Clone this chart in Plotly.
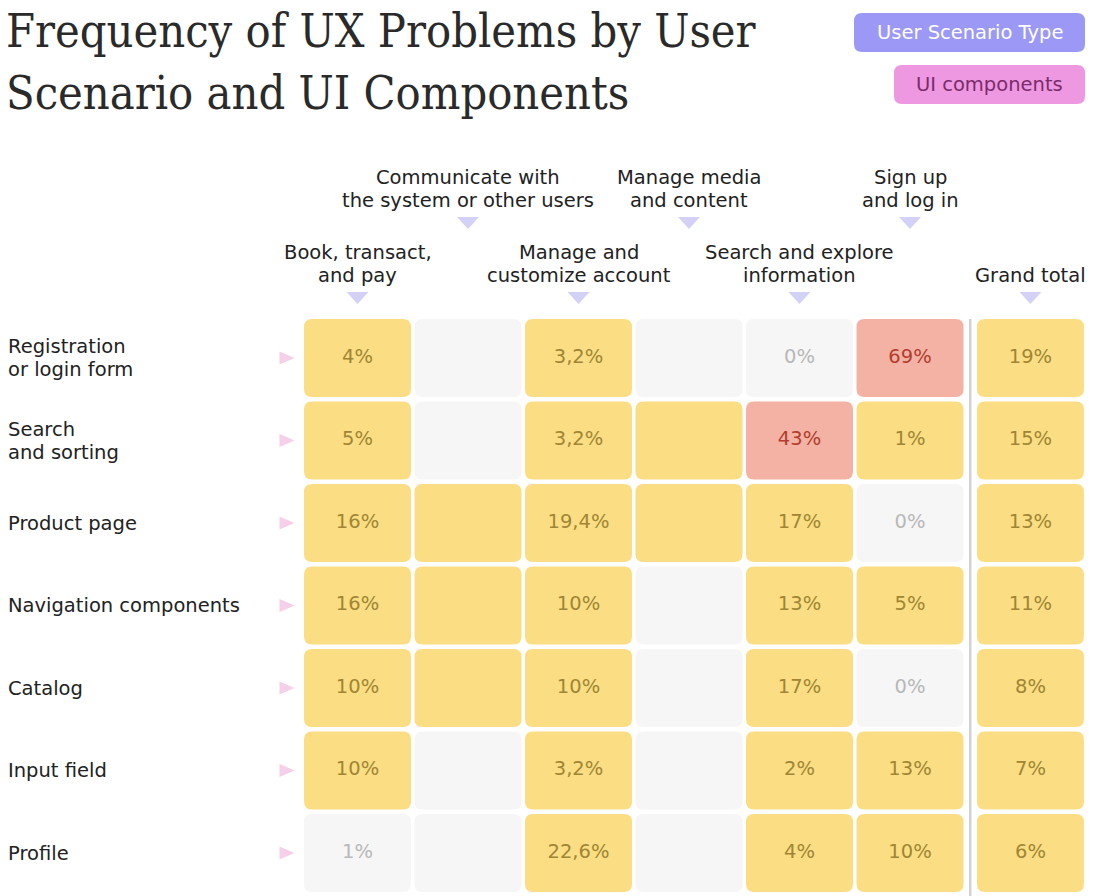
import plotly.graph_objects as go

# ---------------- data ----------------
title_lines = ["Frequency of UX Problems by User", "Scenario and UI Components"]
legend_labels = ["User Scenario Type", "UI components"]
scenarios = [
    "Book, transact,<br>and pay",
    "Communicate with<br>the system or other users",
    "Manage and<br>customize account",
    "Manage media<br>and content",
    "Search and explore<br>information",
    "Sign up<br>and log in",
    "Grand total",
]
components = [
    "Registration<br>or login form",
    "Search<br>and sorting",
    "Product page",
    "Navigation components",
    "Catalog",
    "Input field",
    "Profile",
]
# percentages (None = no label)
values = [
    [4, None, 3.2, None, 0, 69, 19],
    [5, None, 3.2, None, 43, 1, 15],
    [16, None, 19.4, None, 17, 0, 13],
    [16, None, 10, None, 13, 5, 11],
    [10, None, 10, None, 17, 0, 8],
    [10, None, 3.2, None, 2, 13, 7],
    [1, None, 22.6, None, 4, 10, 6],
]
# colour level: 0 = grey, 1 = yellow, 2 = red
levels = [
    [1, 0, 1, 0, 0, 2, 1],
    [1, 0, 1, 1, 2, 1, 1],
    [1, 1, 1, 1, 1, 0, 1],
    [1, 1, 1, 0, 1, 1, 1],
    [1, 1, 1, 0, 1, 0, 1],
    [1, 0, 1, 0, 1, 1, 1],
    [0, 0, 1, 0, 1, 1, 1],
]

# ---------------- style ----------------
W, H = 1102, 896
FONT = "DejaVu Sans"
FS = 19.5
LINE = 23
TITLE_FONT = "DejaVu Serif Condensed, DejaVu Serif"
fill_colors = {0: "#f6f6f6", 1: "#fbde83", 2: "#f4b2a5"}
text_colors = {0: "#b8b8b8", 1: "#a08634", 2: "#b13e2f"}

X0, XP = 357.5, 110.5
Y0, YP = 358.0, 82.5
GT_GAP = 0.09
CW, CH = 107 / XP, 78 / YP
RX, RY = 8 / XP, 8 / YP


def xpos(i):
    return i + (GT_GAP if i == len(scenarios) - 1 else 0)


def fmt(v):
    if v is None:
        return ""
    if float(v).is_integer():
        return f"{int(v)}%"
    return f"{v:.1f}".replace(".", ",") + "%"


def rrect(x0, y0, x1, y1, rx, ry):
    return (f"M {x0+rx},{y0} L {x1-rx},{y0} Q {x1},{y0} {x1},{y0+ry} "
            f"L {x1},{y1-ry} Q {x1},{y1} {x1-rx},{y1} L {x0+rx},{y1} "
            f"Q {x0},{y1} {x0},{y1-ry} L {x0},{y0+ry} Q {x0},{y0} {x0+rx},{y0} Z")


def px2x(px):
    return (px - X0) / XP


def px2y(py):
    return (py - Y0) / YP


shapes = []
annotations = []

# cells
tx, ty, tt, tc = [], [], [], []
for r, row in enumerate(values):
    for c, v in enumerate(row):
        cx = xpos(c)
        lvl = levels[r][c]
        shapes.append(dict(
            type="path", xref="x", yref="y", layer="below",
            path=rrect(cx - CW / 2, r - CH / 2, cx + CW / 2, r + CH / 2, RX, RY),
            fillcolor=fill_colors[lvl], line=dict(width=0)))
        if v is not None:
            tx.append(cx)
            ty.append(r)
            tt.append(fmt(v))
            tc.append(text_colors[lvl])

# separator between scenarios and grand total
sep_x = (xpos(len(scenarios) - 2) + xpos(len(scenarios) - 1)) / 2
shapes.append(dict(type="line", xref="x", yref="y", x0=sep_x, x1=sep_x,
                   y0=-CH / 2, y1=px2y(H),
                   line=dict(color="#d2d2d2", width=2.5)))

# row labels + pink arrows
ax_x = px2x(287)
for r, name in enumerate(components):
    parts = name.split("<br>")
    n = len(parts)
    for k, part in enumerate(parts):
        dy = (k - (n - 1) / 2) * LINE / YP
        annotations.append(dict(
            xref="paper", yref="y", x=6 / W, y=r + dy, xanchor="left",
            yanchor="middle", text=part, align="left", showarrow=False,
            font=dict(family=FONT, size=FS, color="#222222")))
    hw, hh = 7.5 / XP, 6.5 / YP
    shapes.append(dict(
        type="path", xref="x", yref="y",
        path=f"M {ax_x-hw},{r-hh} L {ax_x+hw},{r} L {ax_x-hw},{r+hh} Z",
        fillcolor="#f6cfe9", line=dict(width=0)))

# column headers + purple arrows
for c, name in enumerate(scenarios):
    upper = (c % 2 == 1) and c < len(scenarios) - 1
    cx = xpos(c)
    last_line = 200 if upper else 275
    arrow_y = 223 if upper else 298
    parts = name.split("<br>")
    n = len(parts)
    for k, part in enumerate(parts):
        yy = last_line - (n - 1 - k) * LINE
        annotations.append(dict(
            xref="x", yref="y", x=cx, y=px2y(yy), xanchor="center",
            yanchor="middle", text=part, align="center", showarrow=False,
            font=dict(family=FONT, size=FS, color="#222222")))
    ay = px2y(arrow_y)
    hw, hh = 11 / XP, 6 / YP
    shapes.append(dict(
        type="path", xref="x", yref="y",
        path=f"M {cx-hw},{ay-hh} L {cx+hw},{ay-hh} L {cx},{ay+hh} Z",
        fillcolor="#d4d1f6", line=dict(width=0)))

# title
for i, line in enumerate(title_lines):
    annotations.append(dict(
        xref="paper", yref="paper", x=4 / W, y=1 - (31 + 62 * i) / H,
        xanchor="left", yanchor="middle", text=line, showarrow=False,
        font=dict(family=TITLE_FONT, size=46.5, color="#2a2a2a")))

# legend badges
badges = [
    (854, 13, 1085, 52, "#9c99f6", "#ffffff"),
    (894, 65, 1085, 104, "#ee98e1", "#7a2c6c"),
]
for (x0, y0, x1, y1, bg, fg), lab in zip(badges, legend_labels):
    rxp, ryp = 8 / W, 8 / H
    px0, px1 = x0 / W, x1 / W
    py0, py1 = 1 - y1 / H, 1 - y0 / H
    shapes.append(dict(type="path", xref="paper", yref="paper",
                       path=rrect(px0, py0, px1, py1, rxp, ryp),
                       fillcolor=bg, line=dict(width=0)))
    annotations.append(dict(
        xref="paper", yref="paper", x=(px0 + px1) / 2, y=(py0 + py1) / 2,
        xanchor="center", yanchor="middle", text=lab, showarrow=False,
        font=dict(family=FONT, size=FS, color=fg)))

fig = go.Figure()
fig.add_trace(go.Scatter(
    x=tx, y=ty, text=tt, mode="text", hoverinfo="skip",
    textfont=dict(family=FONT, size=FS, color=tc), showlegend=False))

fig.update_layout(
    width=W, height=H, margin=dict(l=0, r=0, t=0, b=0),
    paper_bgcolor="white", plot_bgcolor="white",
    xaxis=dict(range=[px2x(0), px2x(W)], visible=False, fixedrange=True),
    yaxis=dict(range=[px2y(H), px2y(0)], visible=False, fixedrange=True),
    shapes=shapes, annotations=annotations, showlegend=False,
)
fig.write_html("out.html")
